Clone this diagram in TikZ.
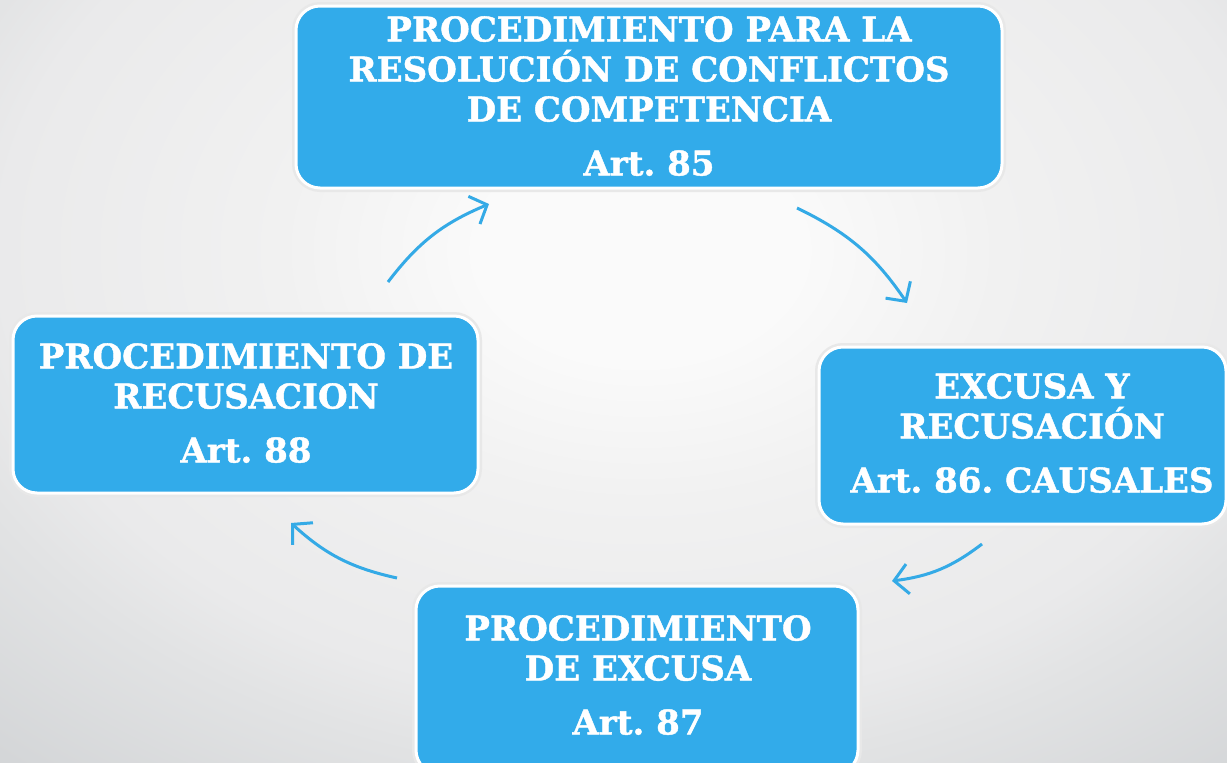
\documentclass[tikz,border=0pt]{standalone}
\usepackage{fontspec}
\setmainfont{DejaVu Serif}[BoldFeatures={FakeBold=1.2}]
\usetikzlibrary{arrows.meta}
\definecolor{boxblue}{RGB}{50,171,234}
\definecolor{arrowblue}{RGB}{52,170,230}
\definecolor{bg0}{HTML}{FAFAFA}
\definecolor{bg1}{HTML}{F1F1F1}
\definecolor{bg2}{HTML}{EAEAEB}
\definecolor{bg3}{HTML}{E2E3E4}
\definecolor{bg4}{HTML}{D3D5D7}
\pgfdeclareradialshading{bgshade}{\pgfpoint{0bp}{0bp}}{color(0bp)=(bg0); color(4bp)=(bg0); color(9bp)=(bg1); color(16bp)=(bg2); color(18.5bp)=(bg3); color(24.5bp)=(bg4); color(50bp)=(bg4)}
\begin{document}
\frenchspacing
\begin{tikzpicture}[x=1pt,y=-1pt,
  box/.style={draw=white, line width=3pt, fill=boxblue, rounded corners=24pt, inner sep=0pt},
  halo/.style={draw=black!9, line width=6pt, rounded corners=25pt, inner sep=0pt},
  boxtext/.style={text=white, font=\bfseries\fontsize{34}{40}\selectfont, align=center, inner sep=0pt, anchor=north},
  cyc/.style={draw=arrowblue, line width=3pt, -{Straight Barb[length=14pt,width=30pt,line width=3pt]}, bend left=15}
]
\useasboundingbox (0,0) rectangle (1227,763);
\clip (0,0) rectangle (1227,763);
\shade[shading=bgshade] (640,250) ellipse (1000 and 700);

% halos
\node[halo, minimum width=708pt, minimum height=184pt] (toph) at (649,97) {};
\node[halo, minimum width=409pt, minimum height=179pt] (righth) at (1022.5,435.5) {};
\node[halo, minimum width=467pt, minimum height=179pt] (lefth) at (245.5,404.5) {};
\node[halo, minimum width=444pt, minimum height=190pt] (bottomh) at (637,680) {};

% boxes
\node[box, minimum width=706pt, minimum height=182pt] (top) at (649,97) {};
\node[box, minimum width=407pt, minimum height=177pt] (right) at (1022.5,435.5) {};
\node[box, minimum width=465pt, minimum height=177pt] (left) at (245.5,404.5) {};
\node[box, minimum width=442pt, minimum height=188pt] (bottom) at (637,680) {};

% texts
\node[boxtext] (toptext) at (649,16) {PROCEDIMIENTO PARA LA\\RESOLUCIÓN DE CONFLICTOS\\DE COMPETENCIA\\[14pt]Art. 85};
\node[boxtext] (righttext) at (1032,373) {EXCUSA Y\\RECUSACIÓN\\[14pt]Art. 86. CAUSALES};
\node[boxtext] (lefttext) at (246,343) {PROCEDIMIENTO DE\\RECUSACION\\[14pt]Art. 88};
\node[boxtext] (bottomtext) at (638,615) {PROCEDIMIENTO\\DE EXCUSA\\[14pt]Art. 87};

% arrow end points
\coordinate (a1s) at (388,282);
\coordinate (a1e) at (489,204);
\coordinate (a2s) at (797,208);
\coordinate (a2e) at (907,303);
\coordinate (a3s) at (982,544);
\coordinate (a3e) at (892,581);
\coordinate (a4s) at (397,578);
\coordinate (a4e) at (291,523);

\draw[cyc] (a1s) to (a1e);
\draw[cyc] (a2s) to (a2e);
\draw[cyc] (a3s) to (a3e);
\draw[cyc] (a4s) to (a4e);
\end{tikzpicture}
\end{document}
